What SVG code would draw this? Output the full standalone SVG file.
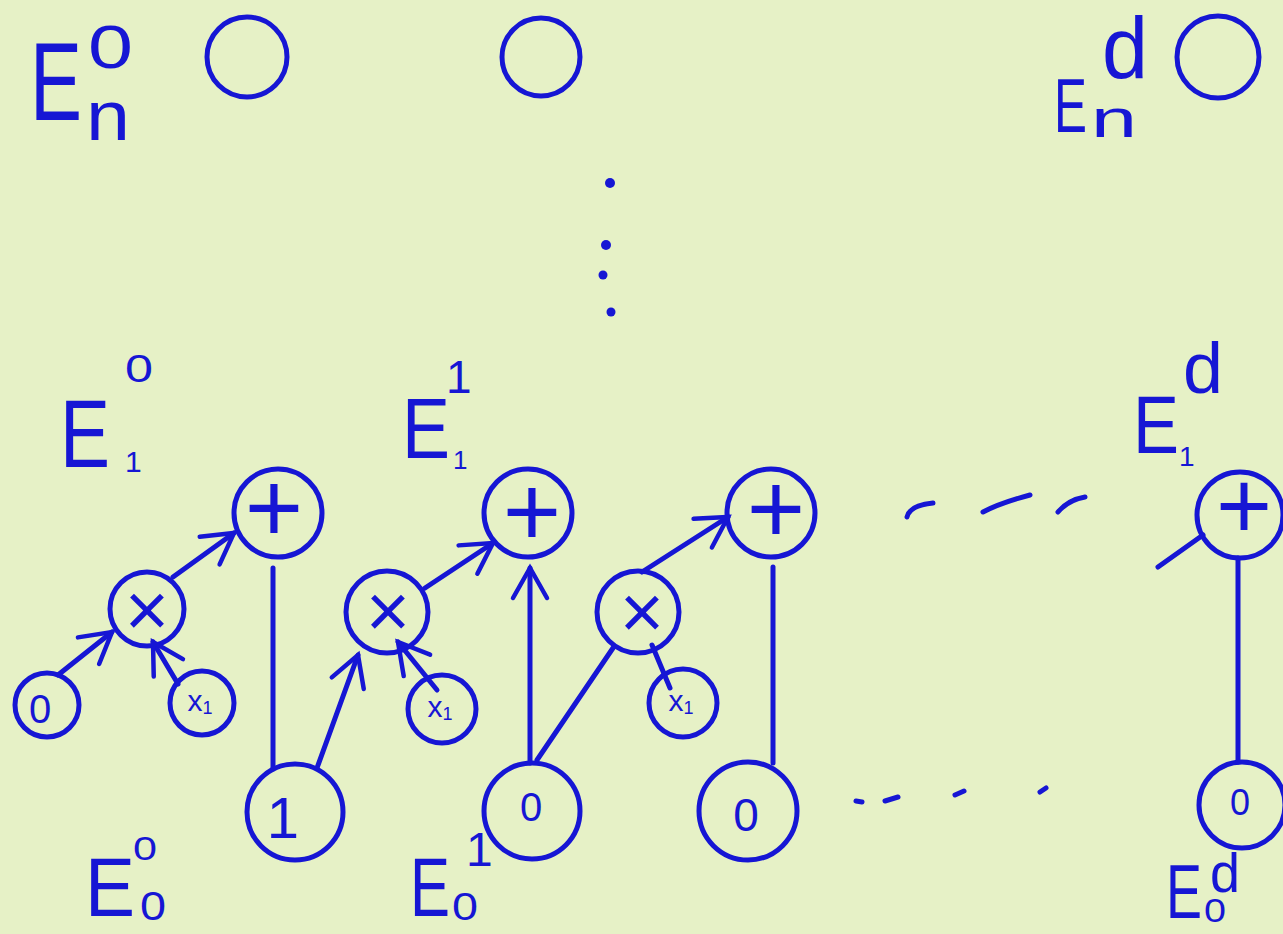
<svg xmlns="http://www.w3.org/2000/svg" width="1283" height="934" viewBox="0 0 1283 934">
<defs>
<style>
.bg{fill:#E6F1C6}
.nd{fill:none;stroke:#1616D4;stroke-width:5}
.ln{fill:none;stroke:#1616D4;stroke-width:5;stroke-linecap:round}
.t{font-family:"Liberation Sans",Arial,sans-serif;fill:#1616D4;text-anchor:middle;dominant-baseline:central}
.l{font-family:"Liberation Sans",Arial,sans-serif;fill:#1616D4}
</style>
<marker id="arr" viewBox="-40 -30 60 60" markerWidth="60" markerHeight="60" refX="0" refY="0" orient="auto" markerUnits="userSpaceOnUse">
<path d="M-30,-17 L0,0 L-30,17" fill="none" stroke="#1616D4" stroke-width="4.5" stroke-linecap="round"/>
</marker>
</defs>
<rect class="bg" x="0" y="0" width="1283" height="934"/>

<g id="label-En0"><text class="l"><tspan x="30" y="120" font-size="112" textLength="52" lengthAdjust="spacingAndGlyphs">E</tspan><tspan x="88" y="68" font-size="62" textLength="45" lengthAdjust="spacingAndGlyphs">0</tspan><tspan x="86" y="140" font-size="70" textLength="44" lengthAdjust="spacingAndGlyphs">n</tspan></text></g>
<g id="top-0"><circle class="nd" cx="247" cy="57" r="40"/></g>
<g id="top-1"><circle class="nd" cx="541" cy="57" r="39"/></g>
<g id="label-End"><text class="l"><tspan x="1054" y="132" font-size="76" textLength="33" lengthAdjust="spacingAndGlyphs">E</tspan><tspan x="1091" y="137" font-size="54" textLength="46" lengthAdjust="spacingAndGlyphs">n</tspan><tspan x="1102" y="78" font-size="88" textLength="46" lengthAdjust="spacingAndGlyphs">d</tspan></text></g>
<g id="top-d"><circle class="nd" cx="1218" cy="57" r="41"/></g>

<g id="vdots" fill="#1616D4"><circle cx="610" cy="183" r="5"/><circle cx="606" cy="245" r="5"/><circle cx="603" cy="275" r="4.5"/><circle cx="611" cy="312" r="4.5"/></g>

<g id="label-E10"><text class="l"><tspan x="60" y="467" font-size="96" textLength="50" lengthAdjust="spacingAndGlyphs">E</tspan><tspan x="125" y="472" font-size="30">1</tspan><tspan x="125" y="382" font-size="38" textLength="28" lengthAdjust="spacingAndGlyphs">0</tspan></text></g>
<g id="label-E11"><text class="l"><tspan x="402" y="458" font-size="86" textLength="48" lengthAdjust="spacingAndGlyphs">E</tspan><tspan x="453" y="469" font-size="26">1</tspan><tspan x="446" y="393" font-size="46">1</tspan></text></g>
<g id="label-E1d"><text class="l"><tspan x="1133" y="453" font-size="82" textLength="46" lengthAdjust="spacingAndGlyphs">E</tspan><tspan x="1179" y="466" font-size="28">1</tspan><tspan x="1183" y="393" font-size="72" textLength="40" lengthAdjust="spacingAndGlyphs">d</tspan></text></g>

<g id="plus1"><circle class="nd" cx="278" cy="513" r="44"/><text class="t" x="274" y="507" font-size="100">+</text></g>
<g id="times1"><circle class="nd" cx="147" cy="609" r="37"/><text class="t" x="147" y="609" font-size="76">×</text></g>
<g id="in-c0"><circle class="nd" cx="47" cy="705" r="32"/><text class="t" x="40" y="709" font-size="40">0</text></g>
<g id="in-x1a"><circle class="nd" cx="202" cy="703" r="32"/><text class="t" x="200" y="700" font-size="30">x<tspan font-size="18" dy="8">1</tspan></text></g>

<g id="plus2"><circle class="nd" cx="528" cy="513" r="44"/><text class="t" x="532" y="511" font-size="100">+</text></g>
<g id="times2"><circle class="nd" cx="387" cy="612" r="41"/><text class="t" x="388" y="610" font-size="76">×</text></g>
<g id="in-x1b"><circle class="nd" cx="442" cy="709" r="34"/><text class="t" x="440" y="706" font-size="30">x<tspan font-size="18" dy="8">1</tspan></text></g>

<g id="plus3"><circle class="nd" cx="771" cy="513" r="44"/><text class="t" x="776" y="508" font-size="100">+</text></g>
<g id="times3"><circle class="nd" cx="638" cy="612" r="41"/><text class="t" x="642" y="611" font-size="76">×</text></g>
<g id="in-x1c"><circle class="nd" cx="683" cy="703" r="34"/><text class="t" x="681" y="700" font-size="30">x<tspan font-size="18" dy="8">1</tspan></text></g>

<g id="plusd"><circle class="nd" cx="1240" cy="515" r="43"/><text class="t" x="1244" y="505" font-size="96">+</text></g>

<g id="e0-0"><circle class="nd" cx="295" cy="812" r="48"/><text class="t" x="283" y="817" font-size="58">1</text></g>
<g id="e0-1"><circle class="nd" cx="532" cy="811" r="48"/><text class="t" x="531" y="807" font-size="40">0</text></g>
<g id="e0-2"><circle class="nd" cx="748" cy="811" r="49"/><text class="t" x="746" y="815" font-size="46">0</text></g>
<g id="e0-d"><circle class="nd" cx="1242" cy="805" r="43"/><text class="t" x="1240" y="802" font-size="36">0</text></g>

<g id="label-E00"><text class="l"><tspan x="85" y="916" font-size="84" textLength="50" lengthAdjust="spacingAndGlyphs">E</tspan><tspan x="140" y="920" font-size="40" textLength="26" lengthAdjust="spacingAndGlyphs">0</tspan><tspan x="133" y="860" font-size="34" textLength="24" lengthAdjust="spacingAndGlyphs">0</tspan></text></g>
<g id="label-E01"><text class="l"><tspan x="410" y="916" font-size="84" textLength="40" lengthAdjust="spacingAndGlyphs">E</tspan><tspan x="452" y="920" font-size="38" textLength="26" lengthAdjust="spacingAndGlyphs">0</tspan><tspan x="466" y="866" font-size="48">1</tspan></text></g>
<g id="label-E0d"><text class="l"><tspan x="1166" y="918" font-size="76" textLength="36" lengthAdjust="spacingAndGlyphs">E</tspan><tspan x="1204" y="922" font-size="34" textLength="22" lengthAdjust="spacingAndGlyphs">0</tspan><tspan x="1210" y="892" font-size="56" textLength="30" lengthAdjust="spacingAndGlyphs">d</tspan></text></g>

<g id="connectors">
<line class="ln" x1="58" y1="675" x2="112" y2="632" marker-end="url(#arr)"/>
<line class="ln" x1="178" y1="684" x2="153" y2="642" marker-end="url(#arr)"/>
<line class="ln" x1="173" y1="577" x2="234" y2="533" marker-end="url(#arr)"/>
<line class="ln" x1="273" y1="568" x2="273" y2="769"/>
<line class="ln" x1="317" y1="768" x2="358" y2="655" marker-end="url(#arr)"/>
<line class="ln" x1="437" y1="690" x2="398" y2="642" marker-end="url(#arr)"/>
<line class="ln" x1="425" y1="588" x2="493" y2="543" marker-end="url(#arr)"/>
<line class="ln" x1="530" y1="763" x2="530" y2="568" marker-end="url(#arr)"/>
<line class="ln" x1="537" y1="760" x2="613" y2="648"/>
<line class="ln" x1="642" y1="572" x2="728" y2="517" marker-end="url(#arr)"/>
<line class="ln" x1="670" y1="688" x2="652" y2="645"/>
<line class="ln" x1="773" y1="567" x2="773" y2="763"/>
<line class="ln" x1="1158" y1="567" x2="1203" y2="535"/>
<line class="ln" x1="1238" y1="558" x2="1238" y2="762"/>
</g>

<g id="dashes">
<path class="ln" d="M907,517 Q910,505 933,503"/>
<path class="ln" d="M983,512 Q1000,503 1030,495"/>
<path class="ln" d="M1058,512 Q1068,500 1085,497"/>
<path class="ln" d="M856,801 L862,802"/>
<path class="ln" d="M885,801 L898,797"/>
<path class="ln" d="M955,795 L964,791"/>
<path class="ln" d="M1040,792 L1046,788"/>
</g>
</svg>
